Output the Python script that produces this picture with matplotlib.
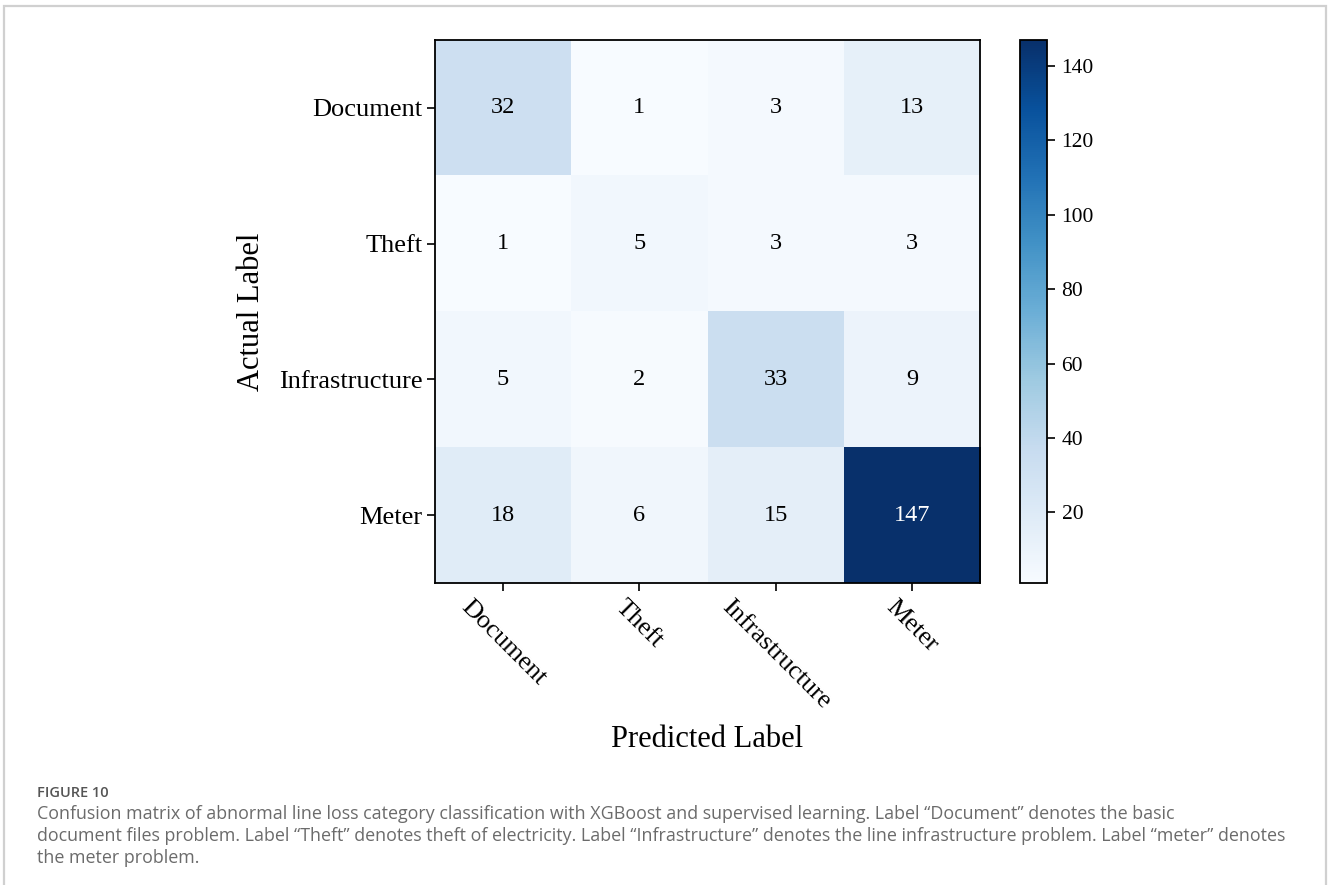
import numpy as np
import matplotlib
matplotlib.use("Agg")
import matplotlib.pyplot as plt
from matplotlib.patches import Rectangle

# confusion matrix of line loss categories (rows: actual, cols: predicted)
classes = ["Document", "Theft", "Infrastructure", "Meter"]
cm = np.array([
    [32, 1, 3, 13],
    [1, 5, 3, 3],
    [5, 2, 33, 9],
    [18, 6, 15, 147],
])
cbar_ticks = [20, 40, 60, 80, 100, 120, 140]

fig_label = "FIGURE 10"
caption_lines = [
    "Confusion matrix of abnormal line loss category classification with XGBoost and supervised learning. "
    "Label \u201cDocument\u201d denotes the basic",
    "document files problem. Label \u201cTheft\u201d denotes theft of electricity. "
    "Label \u201cInfrastructure\u201d denotes the line infrastructure problem. Label \u201cmeter\u201d denotes",
    "the meter problem.",
]

plt.rcParams["font.family"] = ["Liberation Serif", "DejaVu Serif"]

fig = plt.figure(figsize=(13.28, 8.85), dpi=100)
W, H = 1328, 885

ax = fig.add_axes([435 / W, 1 - 583 / H, 545 / W, 543 / H])
cax = fig.add_axes([1020 / W, 1 - 583 / H, 27 / W, 543 / H])

im = ax.imshow(cm, cmap="Blues", aspect="auto", vmin=cm.min(), vmax=cm.max())

thresh = cm.max() / 2
for i in range(cm.shape[0]):
    for j in range(cm.shape[1]):
        ax.text(j, i, str(cm[i, j]), ha="center", va="center", fontsize=17.5,
                color="white" if cm[i, j] > thresh else "black")

ax.set_xticks(range(len(classes)))
ax.set_yticks(range(len(classes)))
ax.set_xticklabels(classes, rotation=-45, fontsize=19)
ax.set_yticklabels(classes, fontsize=19)
ax.tick_params(length=5.5, width=1.2)
ax.set_xlabel("Predicted Label", fontsize=22, labelpad=9)
ax.set_ylabel("Actual Label", fontsize=22, labelpad=9)
for s in ax.spines.values():
    s.set_linewidth(1.3)

cb = fig.colorbar(im, cax=cax, ticks=cbar_ticks)
cb.ax.tick_params(labelsize=15.5, length=5.5, width=1.2, pad=5)
cb.outline.set_linewidth(1.3)

# outer frame and caption
fig.patches.append(Rectangle((4 / W, -0.05), (1322 / W), 1 - 6 / H + 0.05,
                             transform=fig.transFigure, fill=False,
                             edgecolor="#d0d0d0", linewidth=1.6))
cap_font = ["Open Sans", "DejaVu Sans"]
fig.text(37 / W, 1 - 797 / H, fig_label, fontsize=10.5, color="#555555",
         family=cap_font, fontweight="semibold", va="baseline")
for k, line in enumerate(caption_lines):
    fig.text(37 / W, 1 - (819 + 22 * k) / H, line, fontsize=12.9, color="#6b6b6b",
             family=cap_font, va="baseline")

fig.savefig("out.png", dpi=100)
